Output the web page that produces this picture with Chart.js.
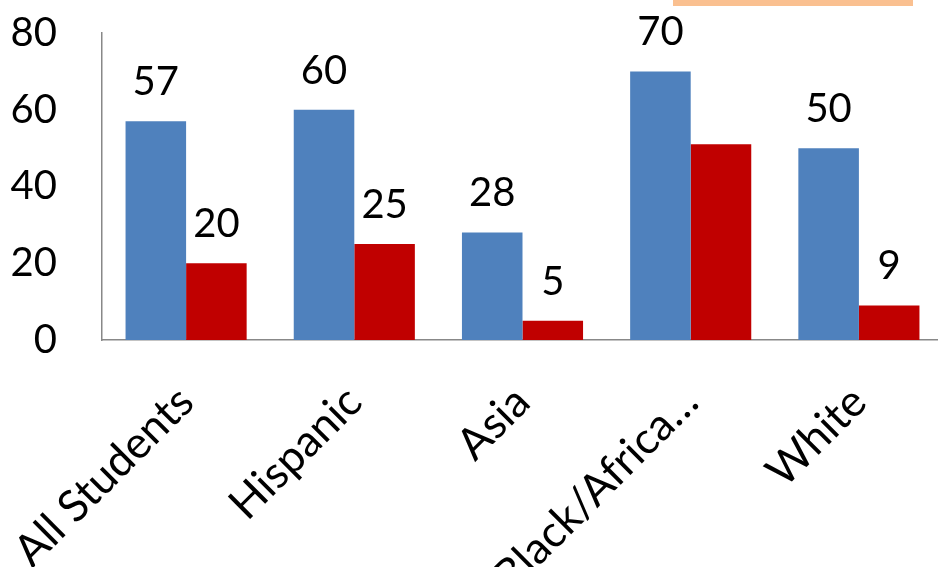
<!DOCTYPE html>
<html>
<head>
<meta charset="utf-8">
<script src="https://cdn.jsdelivr.net/npm/chart.js@4/dist/chart.umd.min.js"></script>
<style>
  html, body { margin: 0; padding: 0; background: #fff; overflow: hidden; }
  #wrap { position: relative; width: 938px; height: 567px; overflow: hidden; }
  #shape { position: absolute; left: 673px; top: 0; width: 240px; height: 6px; background: #FAC090; }
  canvas { position: absolute; left: 0; top: 0; }
</style>
</head>
<body>
<div id="wrap">
  <canvas id="chart" width="960" height="567"></canvas>
  <div id="shape"></div>
</div>
<script>
// Chart data
const categories = ['All Students', 'Hispanic', 'Asia', 'Black/Africa\u2026', 'White'];
const blueValues = [57, 60, 28, 70, 50];
const redValues = [20, 25, 5, 51, 9];
// value labels shown above bars (the Black/African red one is not shown)
const blueLabels = ['57', '60', '28', '70', '50'];
const redLabels = ['20', '25', '5', null, '9'];
const yTicks = [0, 20, 40, 60, 80];

const FONT = 'Lato, "Open Sans", sans-serif';

// Draws the value labels above each bar
const valueLabels = {
    id: 'valueLabels',
    afterDatasetsDraw(chart) {
        const ctx = chart.ctx;
        ctx.save();
        ctx.font = '40px ' + FONT;
        ctx.fillStyle = '#000';
        ctx.textAlign = 'center';
        ctx.textBaseline = 'middle';
        chart.data.datasets.forEach((ds, i) => {
            chart.getDatasetMeta(i).data.forEach((bar, j) => {
                const text = ds.valueLabels[j];
                if (text) ctx.fillText(text, bar.x, bar.y - 39);
            });
        });
        ctx.restore();
    }
};

// fixed axis sizes, no extra padding from labels
function noPad(s) {
    s.paddingTop = 0;
    s.paddingBottom = 0;
    s.paddingLeft = 0;
    s.paddingRight = 0;
}

new Chart(document.getElementById('chart'), {
    type: 'bar',
    data: {
        labels: categories,
        datasets: [
            { data: blueValues, valueLabels: blueLabels, backgroundColor: '#4F81BD' },
            { data: redValues, valueLabels: redLabels, backgroundColor: '#C00000' }
        ]
    },
    options: {
        responsive: false,
        animation: false,
        categoryPercentage: 0.72,
        barPercentage: 1,
        layout: { padding: { left: 10, top: 33, right: 17, bottom: 0 } },
        plugins: { legend: { display: false }, tooltip: { enabled: false } },
        scales: {
            x: {
                grid: { display: false, drawTicks: false },
                border: { display: true, color: '#888', width: 1.5 },
                ticks: {
                    font: { family: FONT, size: 44 },
                    color: '#000',
                    minRotation: 45,
                    maxRotation: 45,
                    autoSkip: false,
                    padding: 36
                },
                afterFit: s => { s.height = 227; noPad(s); }
            },
            y: {
                min: 0,
                max: 80,
                grid: { display: false, drawTicks: false },
                border: { display: true, color: '#888', width: 1.5 },
                afterBuildTicks: s => { s.ticks = yTicks.map(v => ({ value: v })); },
                ticks: {
                    font: { family: FONT, size: 40 },
                    color: '#000',
                    padding: 45
                },
                afterFit: s => { s.width = 92; noPad(s); }
            }
        }
    },
    plugins: [valueLabels]
});
</script>
</body>
</html>
